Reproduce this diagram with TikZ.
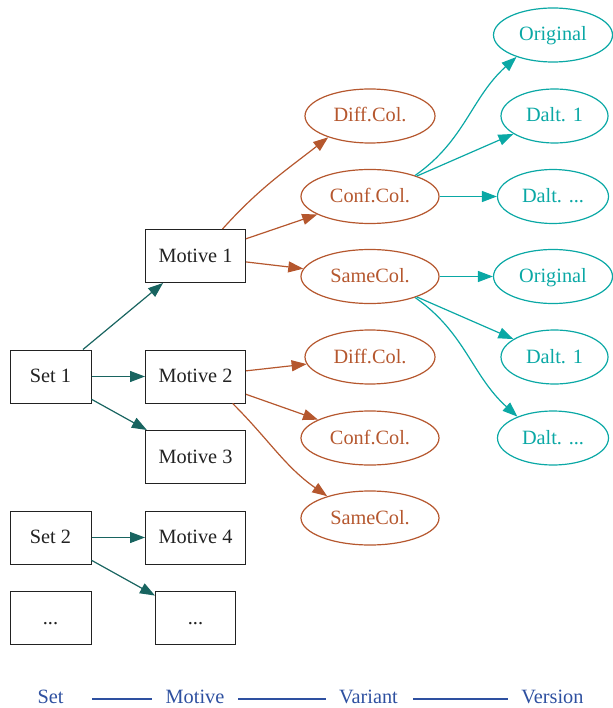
\documentclass[tikz,border=0pt]{standalone}
\usepackage{fontspec}
\setmainfont{Liberation Serif}
\usetikzlibrary{arrows.meta,shapes.geometric}
\definecolor{brn}{HTML}{B5572E}
\definecolor{tdark}{HTML}{186460}
\definecolor{tlight}{HTML}{0AA8A5}
\definecolor{lblue}{HTML}{2E50A0}
\definecolor{ink}{HTML}{222222}
\tikzset{
  every node/.style={font=\fontsize{20.3}{24}\selectfont, text height=12pt, text depth=0pt},
  box/.style={draw=ink, line width=1pt, minimum width=81pt, minimum height=53pt, inner sep=0pt, text=ink},
  mbox/.style={box, minimum width=100pt},
  dbox/.style={box, minimum width=80pt},
  vari/.style={ellipse, draw=brn, line width=1.2pt, text=brn, minimum height=54pt, inner sep=0pt},
  vers/.style={ellipse, draw=tlight, line width=1.2pt, text=tlight, minimum height=54pt, inner sep=0pt},
  tip/.style={-{Triangle[length=15pt,width=11pt]}},
  e1/.style={tip, draw=tdark, line width=1.2pt},
  e2/.style={tip, draw=brn, line width=1.2pt},
  e3/.style={tip, draw=tlight, line width=1.2pt},
  leg/.style={text=lblue},
  legline/.style={draw=lblue, line width=1.2pt}
}
\begin{document}
\begin{tikzpicture}[x=1pt,y=-1pt]
\useasboundingbox (0,0) rectangle (612,708);
% sets
\node[box] (set1) at (50.5,376.5) {Set 1};
\node[box] (set2) at (50.5,537.5) {Set 2};
\node[box] (set3) at (50.5,618) {...};
% motives
\node[mbox] (mot1) at (195.5,256) {Motive 1};
\node[mbox] (mot2) at (195.5,376.5) {Motive 2};
\node[mbox] (mot3) at (195.5,457) {Motive 3};
\node[mbox] (mot4) at (195.5,537.5) {Motive 4};
\node[dbox] (mot5) at (195.5,618) {...};
% variants
\node[vari, minimum width=130pt] (dif1) at (370,116) {Diff.Col.};
\node[vari, minimum width=138pt] (conf1) at (370,196.5) {Conf.Col.};
\node[vari, minimum width=138pt] (same1) at (370,276.5) {SameCol.};
\node[vari, minimum width=130pt] (dif2) at (370,357) {Diff.Col.};
\node[vari, minimum width=138pt] (conf2) at (370,438) {Conf.Col.};
\node[vari, minimum width=138pt] (same2) at (370,518) {SameCol.};
% versions
\node[vers, minimum width=119pt] (orig1) at (553,35) {Original};
\node[vers, minimum width=107pt] (dalt1) at (554.5,116) {Dalt. 1};
\node[vers, minimum width=111pt] (daltx1) at (553,196.5) {Dalt. ...};
\node[vers, minimum width=119pt] (orig2) at (553,276.5) {Original};
\node[vers, minimum width=107pt] (dalt2) at (554.5,357) {Dalt. 1};
\node[vers, minimum width=111pt] (daltx2) at (553,438) {Dalt. ...};
% set -> motive
\draw[e1] (set1) -- (mot1);
\draw[e1] (set1) -- (mot2);
\draw[e1] (set1) -- (mot3);
\draw[e1] (set2) -- (mot4);
\draw[e1] (set2) -- (mot5);
% motive -> variant
\draw[e2] (mot1.45) to[out=48,in=218] (dif1.207);
\draw[e2] (mot1) -- (conf1);
\draw[e2] (mot1) -- (same1);
\draw[e2] (mot2) -- (dif2);
\draw[e2] (mot2) -- (conf2);
\draw[e2] (mot2.-36) to[out=-45,in=145] (same2.153);
% variant -> version
\draw[e3] (conf1.25) to[out=35,in=222] (orig1.211);
\draw[e3] (conf1) -- (dalt1);
\draw[e3] (conf1) -- (daltx1);
\draw[e3] (same1) -- (orig2);
\draw[e3] (same1) -- (dalt2);
\draw[e3] (same1.-25) to[out=-35,in=138] (daltx2.149);
% legend
\node[leg] (lset) at (50.5,697) {Set};
\node[leg] (lmot) at (195,697) {Motive};
\node[leg] (lvar) at (368.5,697) {Variant};
\node[leg] (lver) at (552.5,697) {Version};
\coordinate (a1) at (92,699); \coordinate (a2) at (152,699);
\coordinate (b1) at (238,699); \coordinate (b2) at (326,699);
\coordinate (c1) at (413,699); \coordinate (c2) at (508,699);
\draw[legline] (a1) -- (a2);
\draw[legline] (b1) -- (b2);
\draw[legline] (c1) -- (c2);
\end{tikzpicture}
\end{document}
